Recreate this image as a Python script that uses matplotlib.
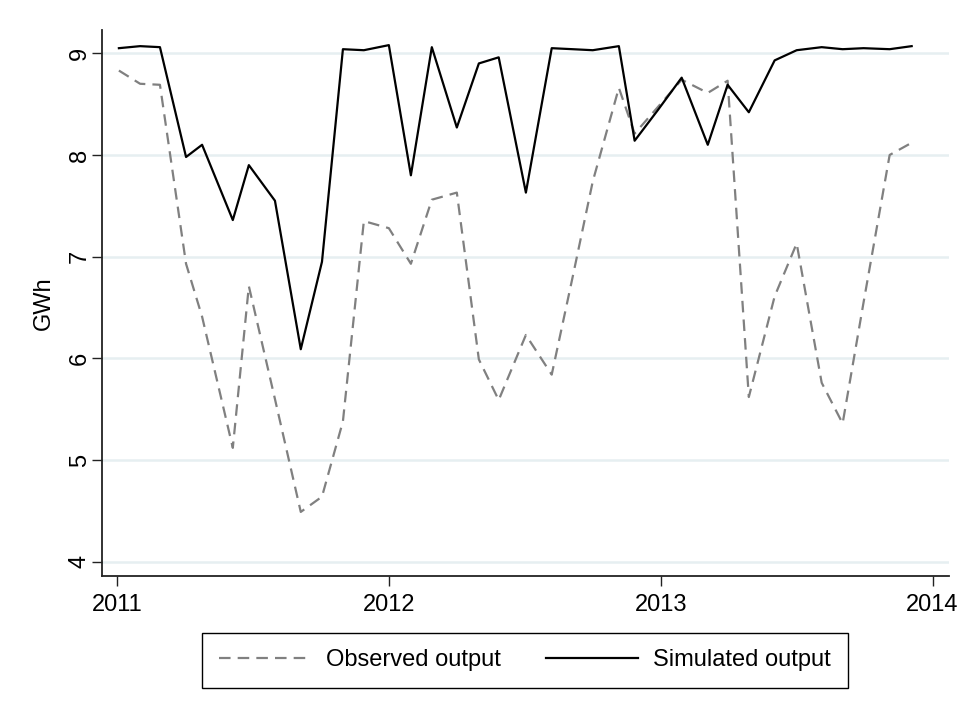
import matplotlib
matplotlib.use("Agg")
import matplotlib.pyplot as plt

# monthly dates (decimal years) and output in GWh
dates = [2011.007, 2011.085, 2011.158, 2011.254, 2011.313, 2011.426, 2011.485, 2011.581,
         2011.676, 2011.754, 2011.831, 2011.908, 2012.000, 2012.081, 2012.158, 2012.250,
         2012.331, 2012.404, 2012.504, 2012.599, 2012.676, 2012.750, 2012.846, 2012.904,
         2012.989, 2013.077, 2013.173, 2013.246, 2013.324, 2013.419, 2013.500, 2013.592,
         2013.669, 2013.746, 2013.842, 2013.923]

observed = [8.83, 8.70, 8.69, 6.93, 6.41, 5.12, 6.71, 5.60,
            4.49, 4.64, 5.38, 7.35, 7.28, 6.93, 7.56, 7.63,
            5.99, 5.59, 6.23, 5.84, 6.80, 7.74, 8.66, 8.21,
            8.47, 8.74, 8.61, 8.73, 5.62, 6.61, 7.13, 5.76,
            5.36, 6.55, 8.00, 8.12]

simulated = [9.05, 9.07, 9.06, 7.98, 8.10, 7.36, 7.90, 7.55,
             6.09, 6.95, 9.04, 9.03, 9.08, 7.80, 9.06, 8.27,
             8.90, 8.96, 7.63, 9.05, 9.04, 9.03, 9.07, 8.14,
             8.44, 8.76, 8.10, 8.69, 8.42, 8.93, 9.03, 9.06,
             9.04, 9.05, 9.04, 9.07]

year_ticks = [2011, 2012, 2013, 2014]
gwh_ticks = [4, 5, 6, 7, 8, 9]

plt.rcParams['font.family'] = ['Liberation Sans', 'DejaVu Sans']

fig = plt.figure(figsize=(9.69, 7.07), dpi=100)
ax = fig.add_axes([0.1053, 0.1853, 0.8737, 0.7723])

for y in gwh_ticks:
    ax.axhline(y, color='#e6eff1', lw=1.8, zorder=0)

ax.plot(dates, observed, color='#808080', lw=1.6, linestyle=(0, (5.2, 3.2)),
        label='Observed output')
ax.plot(dates, simulated, color='black', lw=1.6, label='Simulated output')

ax.set_xlim(2010.945, 2014.059)
ax.set_ylim(3.86, 9.229)
ax.set_xticks(year_ticks)
ax.set_yticks(gwh_ticks)
ax.set_yticklabels([str(v) for v in gwh_ticks], rotation=90, va='center')
ax.tick_params(axis='both', length=7, width=1, color='#222222', labelsize=17)
ax.tick_params(axis='x', pad=6)
ax.tick_params(axis='y', pad=1)
ax.set_ylabel('GWh', fontsize=17, labelpad=10)

for side in ['top', 'right']:
    ax.spines[side].set_visible(False)
for side in ['left', 'bottom']:
    ax.spines[side].set_linewidth(1.3)
    ax.spines[side].set_color('#222222')

leg = fig.legend(loc='center', bbox_to_anchor=(0.5418, 0.066), ncol=2, fontsize=17,
                 handlelength=3.9, handletextpad=0.65, columnspacing=1.9,
                 borderpad=0.7, fancybox=False, edgecolor='black', framealpha=1)
leg.get_frame().set_linewidth(1.0)

fig.savefig('out.png', dpi=100, facecolor='white')
